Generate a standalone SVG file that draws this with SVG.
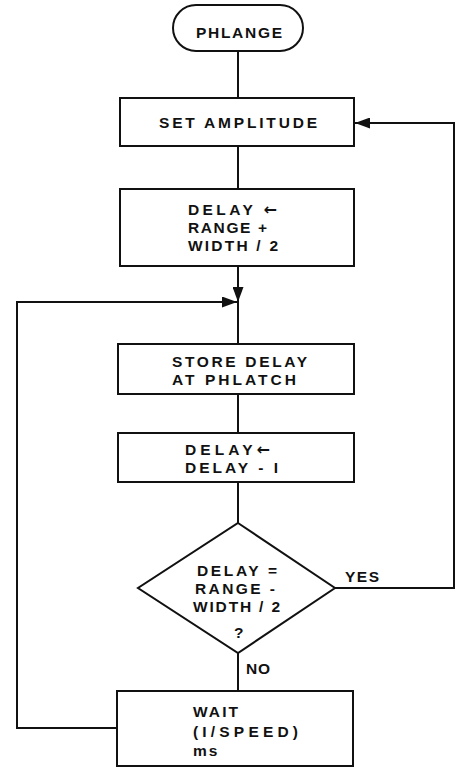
<svg xmlns="http://www.w3.org/2000/svg" width="460" height="767" viewBox="0 0 460 767">
<style>
.box{fill:#fff;stroke:#111;stroke-width:2}
.ln{fill:none;stroke:#111;stroke-width:2}
text{font-family:"Liberation Sans",Arial,sans-serif;font-weight:bold;font-size:15.5px;fill:#111}
.arr{font-family:"DejaVu Sans",sans-serif;font-size:16px}
</style>
<defs>
<marker id="ah" markerUnits="userSpaceOnUse" markerWidth="16" markerHeight="11" refX="15" refY="5.5" orient="auto">
<path d="M0,0 L15,5.5 L0,11 z" fill="#111"/>
</marker>
</defs>
<rect width="460" height="767" fill="#fff"/>
<g id="connectors">
<line class="ln" x1="238" y1="51" x2="238" y2="98"/>
<line class="ln" x1="238" y1="146" x2="238" y2="189"/>
<line class="ln" x1="238" y1="266" x2="238" y2="302" marker-end="url(#ah)"/>
<line class="ln" x1="238" y1="302" x2="238" y2="344"/>
<line class="ln" x1="238" y1="394" x2="238" y2="433"/>
<line class="ln" x1="238" y1="482" x2="238" y2="523"/>
<line class="ln" x1="238" y1="653" x2="238" y2="691"/>
<polyline class="ln" points="335,588 454,588 454,123 355,123" marker-end="url(#ah)"/>
<polyline class="ln" points="117,728 17,728 17,302 237,302" marker-end="url(#ah)"/>
<text x="345" y="582" textLength="34" lengthAdjust="spacing">YES</text>
<text x="246" y="674" textLength="24" lengthAdjust="spacing">NO</text>
</g>
<g id="start">
<rect class="box" x="173" y="5" width="130" height="46" rx="23"/>
<text x="196" y="38" textLength="86" lengthAdjust="spacing">PHLANGE</text>
</g>
<g id="set-amplitude">
<rect class="box" x="120" y="98" width="234" height="48"/>
<text x="159" y="128" textLength="158" lengthAdjust="spacing">SET AMPLITUDE</text>
</g>
<g id="delay-init">
<rect class="box" x="120" y="189" width="234" height="77"/>
<text x="188" y="215" textLength="89" lengthAdjust="spacing">DELAY <tspan class="arr">←</tspan></text>
<text x="188" y="233" textLength="79" lengthAdjust="spacing">RANGE +</text>
<text x="188" y="251" textLength="90" lengthAdjust="spacing">WIDTH / 2</text>
</g>
<g id="store-delay">
<rect class="box" x="118" y="344" width="236" height="50"/>
<text x="172" y="367" textLength="135" lengthAdjust="spacing">STORE DELAY</text>
<text x="172" y="385" textLength="124" lengthAdjust="spacing">AT PHLATCH</text>
</g>
<g id="delay-dec">
<rect class="box" x="118" y="433" width="236" height="49"/>
<text x="185" y="455" textLength="85" lengthAdjust="spacing">DELAY<tspan class="arr">←</tspan></text>
<text x="185" y="473" textLength="93" lengthAdjust="spacing">DELAY - I</text>
</g>
<g id="decision">
<polygon class="box" points="238,523 335,588 238,653 138,588"/>
<text x="197" y="576" textLength="80" lengthAdjust="spacing">DELAY =</text>
<text x="195" y="594" textLength="80" lengthAdjust="spacing">RANGE -</text>
<text x="193" y="612" textLength="87" lengthAdjust="spacing">WIDTH / 2</text>
<text x="234" y="638">?</text>
</g>
<g id="wait">
<rect class="box" x="117" y="691" width="236" height="75"/>
<text x="193" y="717" textLength="45" lengthAdjust="spacing">WAIT</text>
<text x="193" y="737" textLength="105" lengthAdjust="spacing">(I/SPEED)</text>
<text x="193" y="756" style="letter-spacing:2px">ms</text>
</g>
</svg>
